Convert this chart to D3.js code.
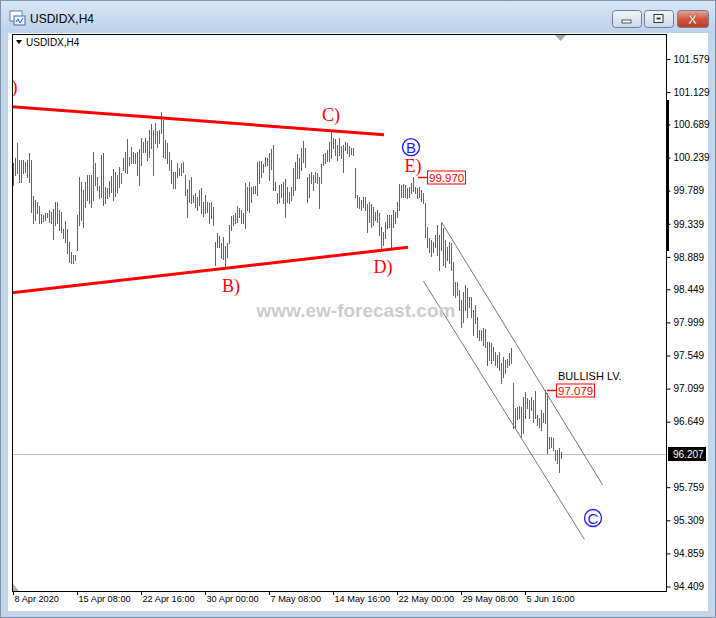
<!DOCTYPE html>
<html><head><meta charset="utf-8">
<script src="https://cdn.jsdelivr.net/npm/d3@7"></script>
<style>
html,body{margin:0;padding:0;background:#c3d4e9;}
svg{display:block;}
</style></head><body>
<script>
// ---- data (USDIDX, H4 bars from 8 Apr 2020) ----
const highs = [
100.17,100.23,100.44,100.21,100.21,100.21,100.18,100.21,100.30,100.21,
99.72,99.66,99.64,99.58,99.47,99.46,99.49,99.49,99.53,99.50,
99.54,99.64,99.64,99.53,99.50,99.27,99.38,99.27,99.09,98.96,
98.92,98.92,99.46,99.98,99.91,99.80,99.91,100.00,100.00,100.00,
100.32,100.17,99.98,99.85,100.27,100.30,99.84,99.83,99.92,99.99,
100.08,100.04,100.00,100.11,100.03,100.23,100.32,100.49,100.25,100.38,
100.32,100.30,100.32,100.36,100.51,100.45,100.51,100.46,100.61,100.70,
100.61,100.71,100.60,100.61,100.86,100.75,100.48,100.44,100.32,100.21,
100.04,100.04,100.17,100.10,100.17,100.18,100.00,99.81,99.93,99.98,
99.73,99.76,99.70,99.80,99.83,99.64,99.73,99.64,99.62,99.64,
99.57,99.09,99.21,99.17,99.08,99.16,99.04,99.08,99.32,99.45,
99.46,99.49,99.58,99.55,99.53,99.49,99.89,99.84,99.91,99.84,
99.85,99.85,100.18,100.19,100.19,100.15,100.25,100.23,100.30,100.36,
100.41,99.91,99.76,99.87,99.88,99.91,99.95,99.84,99.77,99.84,
100.10,100.18,100.29,100.23,100.37,100.46,100.37,99.98,100.02,100.04,
100.00,100.04,100.03,99.98,100.15,100.29,100.30,100.34,100.45,100.59,
100.51,100.49,100.41,100.51,100.40,100.41,100.45,100.44,100.40,100.37,
100.37,100.10,99.73,99.70,99.66,99.70,99.70,99.61,99.64,99.61,
99.57,99.50,99.53,99.49,99.30,99.23,99.36,99.46,99.46,99.46,
99.53,99.50,99.64,99.88,99.87,99.88,99.87,99.83,99.84,99.89,
99.97,99.84,99.83,99.84,99.80,99.76,99.62,99.30,99.15,99.12,
99.09,99.19,99.32,99.19,99.35,99.28,99.12,99.02,99.09,99.08,
98.82,98.55,98.55,98.44,98.30,98.41,98.51,98.47,98.34,98.34,
98.17,98.24,98.07,97.90,97.90,97.92,97.91,97.73,97.73,97.72,
97.66,97.60,97.55,97.60,97.45,97.53,97.49,97.50,97.58,97.65,
97.18,96.84,96.85,96.86,96.85,96.98,97.05,96.97,96.94,96.98,
96.94,97.07,96.74,96.70,96.81,96.77,97.08,97.04,96.44,96.44,
96.43,96.26,96.26,96.29,96.24];
const lows = [
99.87,100.00,100.03,99.91,99.91,100.03,100.04,99.98,99.91,99.50,
99.35,99.39,99.49,99.35,99.35,99.38,99.39,99.43,99.36,99.35,
99.13,99.32,99.35,99.26,99.23,99.15,99.09,98.94,98.82,98.81,
98.81,98.85,98.98,99.32,99.39,99.30,99.57,99.66,99.62,99.57,
99.66,99.87,99.80,99.69,99.70,99.59,99.62,99.69,99.72,99.77,
99.66,99.72,99.77,99.84,99.89,100.07,100.04,100.03,100.14,100.17,
100.17,100.17,100.00,99.87,100.14,100.32,100.32,100.21,100.25,100.37,
100.00,100.44,100.38,100.44,100.57,100.25,100.23,100.17,100.07,99.89,
99.83,99.83,99.98,100.00,100.00,100.04,99.73,99.43,99.64,99.62,
99.64,99.57,99.53,99.59,99.49,99.45,99.49,99.50,99.35,99.42,
99.32,98.78,99.02,99.02,98.87,98.86,98.75,98.89,99.08,99.26,
99.32,99.35,99.36,99.43,99.35,99.35,99.28,99.53,99.50,99.64,
99.76,99.76,99.73,99.89,99.98,100.04,100.12,100.14,99.93,100.08,
99.80,99.80,99.62,99.64,99.70,99.62,99.43,99.64,99.62,99.66,
99.73,99.80,99.96,99.96,100.07,100.18,100.11,99.64,99.70,99.89,
99.80,99.91,99.89,99.55,99.89,100.14,100.17,100.19,100.19,100.23,
100.37,100.27,100.21,100.27,100.23,100.04,100.34,100.30,100.26,100.29,
100.27,99.70,99.57,99.55,99.53,99.57,99.53,99.23,99.36,99.30,
99.32,99.39,99.36,99.19,98.98,99.05,99.15,99.28,99.30,99.01,
99.30,99.35,99.43,99.53,99.70,99.70,99.70,99.69,99.70,99.76,
99.78,99.76,99.69,99.70,99.65,99.62,99.16,99.02,98.96,98.90,
98.96,99.02,98.92,98.71,98.98,98.78,98.75,98.85,98.81,98.71,
98.37,98.34,98.37,98.17,97.94,98.00,98.17,98.07,98.21,98.07,
97.83,97.99,97.80,97.76,97.76,97.69,97.66,97.42,97.49,97.45,
97.49,97.42,97.39,97.35,97.18,97.26,97.31,97.39,97.42,97.45,
96.56,96.58,96.69,96.70,96.44,96.49,96.70,96.83,96.70,96.81,
96.64,96.70,96.61,96.58,96.54,96.64,96.63,96.22,96.29,96.31,
96.26,96.13,96.09,95.97,96.16];
const lastPrice = 96.207;
const priceTicks = [101.579,101.129,100.689,100.239,99.789,99.339,98.889,98.449,97.999,97.549,97.099,96.649,95.759,95.309,94.859,94.409];
const dateLabels = ["8 Apr 2020","15 Apr 08:00","22 Apr 16:00","30 Apr 00:00","7 May 08:00","14 May 16:00","22 May 00:00","29 May 08:00","5 Jun 16:00"];
const dateLabelBars = [0,32,64,96,128,160,192,224,256];
// trend lines: [barIndex, price]
const upperTriangle = [[-0.5,100.93],[185.5,100.55]];
const lowerTriangle = [[-0.5,98.40],[197.5,99.02]];
const channelUpper = [[214.3,99.36],[294.8,95.79]];
const channelLower = [[205.2,98.56],[285.7,95.05]];
// wave labels: [text, barIndex (centre), price (baseline)]
const waveLabels = [["A)",-2.5,101.12],["B)",109,98.41],["C)",159,100.74],["D)",185,98.67],["E)",200,100.04]];
const circled = [["B",199,100.38],["C",290,95.34]];
const levels = [{value:99.970, bar:202.5, note:""},{value:97.079, bar:267, note:"BULLISH LV."}];

// ---- layout ----
const W=716,H=618;
const L=12,R=666,T=34,B=591;
const SANS="'Liberation Sans',Arial,sans-serif";
const SERIF="'Liberation Serif','Times New Roman',serif";
const x = d3.scaleLinear().domain([-0.5,326.5]).range([L,R]);
const y = d3.scaleLinear().domain([94.409,101.579]).range([586.5,59]);

const svg = d3.select("body").append("svg").attr("width",W).attr("height",H).attr("font-family",SANS);
const defs = svg.append("defs");
const tg = defs.append("linearGradient").attr("id","tb").attr("x1",0).attr("y1",0).attr("x2",0).attr("y2",1);
tg.append("stop").attr("offset","0%").attr("stop-color","#dbe7f5");
tg.append("stop").attr("offset","100%").attr("stop-color","#bcd1ea");
const cg = defs.append("linearGradient").attr("id","cl").attr("x1",0).attr("y1",0).attr("x2",0).attr("y2",1);
cg.append("stop").attr("offset","0%").attr("stop-color","#e9a99a");
cg.append("stop").attr("offset","50%").attr("stop-color","#d0553f");
cg.append("stop").attr("offset","100%").attr("stop-color","#c13a22");
const bg = defs.append("linearGradient").attr("id","bt").attr("x1",0).attr("y1",0).attr("x2",0).attr("y2",1);
bg.append("stop").attr("offset","0%").attr("stop-color","#f2f6fb");
bg.append("stop").attr("offset","100%").attr("stop-color","#cbd8e8");
defs.append("clipPath").attr("id","plot").append("rect").attr("x",L).attr("y",T).attr("width",R-L).attr("height",B-T);

// window chrome
svg.append("rect").attr("width",W).attr("height",H).attr("fill","#c4d5ea");
svg.append("rect").attr("x",0).attr("y",0).attr("width",W).attr("height",33).attr("fill","url(#tb)");
svg.append("rect").attr("x",0.5).attr("y",0.5).attr("width",W-1).attr("height",H-1).attr("fill","none").attr("stroke","#7f93ad");
const ic = svg.append("g").attr("transform","translate(10,11)");
ic.append("rect").attr("width",12).attr("height",10).attr("fill","#fff").attr("stroke","#5a7fb0");
ic.append("rect").attr("x",4).attr("y",5).attr("width",11).attr("height",9).attr("fill","#eaf2fb").attr("stroke","#3d6db0");
ic.append("path").attr("d","M6,11 L8,8 L10,12 L13,7").attr("fill","none").attr("stroke","#2060c0");
svg.append("text").attr("x",30).attr("y",23).attr("font-size",12).attr("fill","#000").text("USDIDX,H4");
function btn(x0,w,fill){
  svg.append("rect").attr("x",x0+0.5).attr("y",10.5).attr("width",w).attr("height",17).attr("rx",3).attr("fill",fill).attr("stroke","#6d7f99");
}
btn(612,29,"url(#bt)"); btn(644,29,"url(#bt)"); btn(677,31,"url(#cl)");
svg.append("rect").attr("x",622).attr("y",20).attr("width",9).attr("height",3).attr("fill","#fff").attr("stroke","#333").attr("stroke-width",0.8);
svg.append("rect").attr("x",654).attr("y",14.5).attr("width",9).attr("height",8).attr("fill","#fff").attr("stroke","#333").attr("stroke-width",1);
svg.append("rect").attr("x",656.5).attr("y",17.5).attr("width",4).attr("height",2).attr("fill","#333");
svg.append("text").attr("x",692.5).attr("y",24).attr("text-anchor","middle").attr("font-size",13).attr("font-weight","bold").attr("fill","#fff").attr("stroke","#7a2a1a").attr("stroke-width",0.4).text("X");

// white chart panel
svg.append("rect").attr("x",8).attr("y",33).attr("width",700).attr("height",578).attr("fill","#fff");

const plot = svg.append("g").attr("clip-path","url(#plot)");

// current price line
const lpy = Math.round(y(lastPrice))+0.5;
plot.append("line").attr("x1",L).attr("x2",R).attr("y1",lpy).attr("y2",lpy).attr("stroke","#c0c0c0");

// watermark
svg.append("text").attr("x",356).attr("y",317).attr("text-anchor","middle").attr("font-size",19).attr("font-weight","bold")
  .attr("fill","#cccccc").text("www.ew-forecast.com");

// bars (high-low)
plot.selectAll("line.bar").data(highs).join("line").attr("class","bar")
  .attr("x1",(d,i)=>x(i)+0.5).attr("x2",(d,i)=>x(i)+0.5)
  .attr("y1",d=>y(d)).attr("y2",(d,i)=>y(lows[i])+1)
  .attr("stroke","#626262").attr("stroke-width",1).attr("shape-rendering","crispEdges");

// trend lines
const line = d3.line().x(d=>x(d[0])).y(d=>y(d[1]));
[upperTriangle,lowerTriangle].forEach(p=>{
  plot.append("path").attr("d",line(p)).attr("stroke","#ff0000").attr("stroke-width",3).attr("fill","none");
});
[channelUpper,channelLower].forEach(p=>{
  plot.append("path").attr("d",line(p)).attr("stroke","#777777").attr("stroke-width",1).attr("fill","none");
});

// wave labels
waveLabels.forEach(([t,b,p])=>{
  plot.append("text").attr("x",x(b)).attr("y",y(p)).attr("text-anchor","middle")
    .attr("font-family",SERIF).attr("font-size",18).attr("fill","#ff0000").text(t);
});
circled.forEach(([t,b,p])=>{
  const g = plot.append("g").attr("transform",`translate(${x(b)},${y(p)})`);
  g.append("circle").attr("r",8.5).attr("fill","none").attr("stroke","#1a1aff").attr("stroke-width",1.3);
  g.append("text").attr("y",5.5).attr("text-anchor","middle").attr("font-size",15).attr("fill","#1a1aff").text(t);
});

// level boxes
levels.forEach(lv=>{
  const yy = Math.round(y(lv.value))+0.5;
  const x0 = x(lv.bar);
  const g = plot.append("g");
  g.append("line").attr("x1",x0).attr("x2",x0+9).attr("y1",yy).attr("y2",yy).attr("stroke","#ff0000").attr("stroke-width",1.5);
  const r = g.append("rect");
  const t = g.append("text").attr("x",x0+11).attr("y",yy+4.5).attr("font-size",11.5).attr("fill","#ff0000").text(lv.value.toFixed(3));
  const bb = t.node().getBBox();
  r.attr("x",x0+9.5).attr("y",yy-6.5).attr("width",Math.round(bb.width)+3).attr("height",13)
    .attr("fill","#fff").attr("stroke","#ff0000");
  if(lv.note){
    g.append("text").attr("x",x0+11).attr("y",yy-11).attr("font-size",11).attr("fill","#000").text(lv.note);
  }
});

// frame
svg.append("rect").attr("x",L+0.5).attr("y",T+0.5).attr("width",R-L).attr("height",B-T).attr("fill","none").attr("stroke","#000");
svg.append("rect").attr("x",R).attr("y",100).attr("width",3).attr("height",151).attr("fill","#000");

// y axis
const yAxis = d3.axisRight(y).tickValues(priceTicks).tickFormat(d3.format(".3f")).tickSize(4).tickPadding(3);
const ya = svg.append("g").attr("transform",`translate(${R+0.5},0)`).call(yAxis);
ya.select(".domain").remove();
ya.selectAll("text").attr("font-size",10).attr("fill","#000").attr("font-family",SANS);
ya.selectAll("line").attr("stroke","#000");
const ly = y(lastPrice);
svg.append("rect").attr("x",R+2).attr("y",Math.round(ly)-7).attr("width",38).attr("height",14).attr("fill","#000");
svg.append("text").attr("x",R+7).attr("y",Math.round(ly)+4).attr("font-size",10).attr("fill","#fff").text(lastPrice.toFixed(3));

// x axis
const xa = svg.append("g");
dateLabelBars.forEach((b,i)=>{
  const xx = Math.round(x(b))+0.5;
  xa.append("line").attr("x1",xx).attr("x2",xx).attr("y1",B).attr("y2",B+4).attr("stroke","#000");
  xa.append("text").attr("x",xx+1).attr("y",B+11).attr("font-size",9.2).attr("fill","#000").text(dateLabels[i]);
});

// top-left label and markers
svg.append("path").attr("d","M16,40 L22,40 L19,44 Z").attr("fill","#000");
svg.append("text").attr("x",26).attr("y",46).attr("font-size",10).attr("fill","#000").text("USDIDX,H4");
svg.append("path").attr("d","M555,35 L566,35 L560.5,41 Z").attr("fill","#a8a8a8");
svg.append("path").attr("d","M13,584 L13,591 L19,591 Z").attr("fill","#b0b0b0");
</script>
</body></html>
